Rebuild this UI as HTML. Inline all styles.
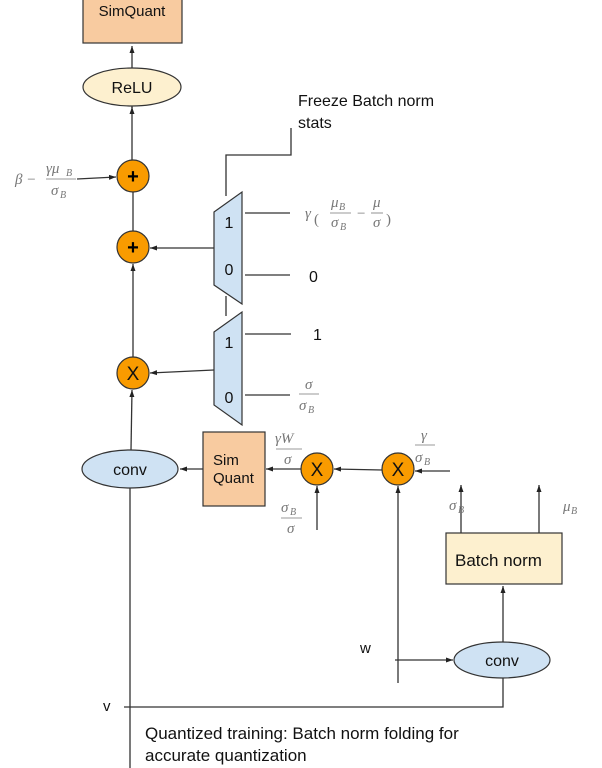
<!DOCTYPE html>
<html><head><meta charset="utf-8"><style>
html,body{margin:0;padding:0;background:#fff;}
svg{display:block;}
.t{font-family:"Liberation Sans",Arial,sans-serif;fill:#111;}
.m{font-family:"Liberation Serif",serif;font-style:italic;fill:#777;font-size:15px;}
.ms{font-family:"Liberation Serif",serif;font-style:italic;fill:#777;font-size:10px;}
</style></head><body>
<svg width="602" height="768" viewBox="0 0 602 768" xmlns="http://www.w3.org/2000/svg">
<defs><marker id="a" markerWidth="8" markerHeight="8" refX="7" refY="4" orient="auto" markerUnits="userSpaceOnUse"><path d="M0,1.5 L7,4 L0,6.5z" fill="#222"/></marker></defs>
<g stroke="#333" stroke-width="1.3" fill="none">
<line x1="132" y1="108" x2="132" y2="46" marker-end="url(#a)"/>
<line x1="132" y1="160" x2="132" y2="107" marker-end="url(#a)"/>
<line x1="133" y1="231" x2="133" y2="192"/>
<line x1="133" y1="357" x2="133" y2="264" marker-end="url(#a)"/>
<line x1="131" y1="450" x2="132" y2="390" marker-end="url(#a)"/>
<line x1="130" y1="488" x2="130" y2="768"/>
<line x1="77" y1="179" x2="116" y2="177" marker-end="url(#a)"/>
<line x1="214" y1="248" x2="150" y2="248" marker-end="url(#a)"/>
<line x1="214" y1="370" x2="150" y2="373" marker-end="url(#a)"/>
<polyline points="226,196 226,155 291,155 291,128"/>
<line x1="226" y1="296" x2="226" y2="316"/>
<line x1="245" y1="213" x2="290" y2="213"/>
<line x1="245" y1="275" x2="290" y2="275"/>
<line x1="245" y1="334" x2="291" y2="334"/>
<line x1="245" y1="395" x2="290" y2="395"/>
<line x1="203" y1="469" x2="180" y2="469" marker-end="url(#a)"/>
<line x1="301" y1="469" x2="266" y2="469" marker-end="url(#a)"/>
<line x1="382" y1="470" x2="334" y2="469" marker-end="url(#a)"/>
<line x1="450" y1="471" x2="415" y2="471" marker-end="url(#a)"/>
<line x1="317" y1="530" x2="317" y2="486" marker-end="url(#a)"/>
<line x1="398" y1="683" x2="398" y2="486" marker-end="url(#a)"/>
<line x1="461" y1="533" x2="461" y2="485" marker-end="url(#a)"/>
<line x1="539" y1="533" x2="539" y2="485" marker-end="url(#a)"/>
<line x1="503" y1="642" x2="503" y2="586" marker-end="url(#a)"/>
<line x1="395" y1="660" x2="453" y2="660" marker-end="url(#a)"/>
<polyline points="503,678 503,707 124,707"/>
</g>
<rect x="83" y="-2" width="99" height="45" fill="#f8cba0" stroke="#333" stroke-width="1.2"/>
<ellipse cx="132" cy="87" rx="49" ry="19" fill="#fdf0cf" stroke="#333" stroke-width="1.2"/>
<g fill="#f99b00" stroke="#333" stroke-width="1.2">
<circle cx="133" cy="176" r="16"/><circle cx="133" cy="247" r="16"/><circle cx="133" cy="373" r="16"/>
<circle cx="317" cy="469" r="16"/><circle cx="398" cy="469" r="16"/>
</g>
<g fill="#cfe2f3" stroke="#333" stroke-width="1.2">
<polygon points="214,212 242,192 242,304 214,285"/>
<polygon points="214,332 242,312 242,425 214,405"/>
<ellipse cx="130" cy="469" rx="48" ry="19"/>
<ellipse cx="502" cy="660" rx="48" ry="18"/>
</g>
<rect x="203" y="432" width="62" height="74" fill="#f8cba0" stroke="#333" stroke-width="1.2"/>
<rect x="446" y="533" width="116" height="51" fill="#fdf0cf" stroke="#333" stroke-width="1.2"/>
<g class="t" font-size="15">
<text x="132" y="16" text-anchor="middle">SimQuant</text>
<text x="132" y="93" text-anchor="middle" font-size="16">ReLU</text>
<text x="133" y="183" text-anchor="middle" font-size="20" font-weight="bold" fill="#000">+</text>
<text x="133" y="254" text-anchor="middle" font-size="20" font-weight="bold" fill="#000">+</text>
<text x="133" y="380" text-anchor="middle" font-size="19">X</text>
<text x="317" y="476" text-anchor="middle" font-size="19">X</text>
<text x="398" y="476" text-anchor="middle" font-size="19">X</text>
<text x="229" y="228" text-anchor="middle" font-size="16">1</text>
<text x="229" y="275" text-anchor="middle" font-size="16">0</text>
<text x="229" y="348" text-anchor="middle" font-size="16">1</text>
<text x="229" y="403" text-anchor="middle" font-size="16">0</text>
<text x="309" y="282" font-size="16">0</text>
<text x="313" y="340" font-size="16">1</text>
<text x="298" y="106" font-size="16">Freeze Batch norm</text>
<text x="298" y="128" font-size="16">stats</text>
<text x="130" y="475" text-anchor="middle" font-size="16">conv</text>
<text x="502" y="666" text-anchor="middle" font-size="16">conv</text>
<text x="213" y="465" font-size="15">Sim</text>
<text x="213" y="483" font-size="15">Quant</text>
<text x="455" y="566" font-size="17">Batch norm</text>
<text x="360" y="653" font-size="15">w</text>
<text x="103" y="711" font-size="15">v</text>
<text x="145" y="739" font-size="17">Quantized training: Batch norm folding for</text>
<text x="145" y="761" font-size="17">accurate quantization</text>
</g>
<g>
<text class="m" x="15" y="184" font-size="16">β −</text>
<text class="m" x="46" y="173">γμ</text><text class="ms" x="66" y="176">B</text>
<line x1="46" y1="179" x2="76" y2="179" stroke="#777" stroke-width="0.8"/>
<text class="m" x="51" y="195">σ</text><text class="ms" x="60" y="198">B</text>

<text class="m" x="305" y="218">γ</text>
<text class="m" x="314" y="224" font-size="28" style="font-style:normal">(</text>
<text class="m" x="331" y="207">μ</text><text class="ms" x="339" y="210">B</text>
<line x1="330" y1="213" x2="351" y2="213" stroke="#777" stroke-width="0.8"/>
<text class="m" x="331" y="227">σ</text><text class="ms" x="340" y="230">B</text>
<text class="m" x="357" y="218" style="font-style:normal">−</text>
<text class="m" x="373" y="207">μ</text>
<line x1="371" y1="213" x2="383" y2="213" stroke="#777" stroke-width="0.8"/>
<text class="m" x="373" y="227">σ</text>
<text class="m" x="386" y="224" font-size="28" style="font-style:normal">)</text>

<text class="m" x="305" y="389">σ</text>
<line x1="299" y1="394" x2="319" y2="394" stroke="#777" stroke-width="0.8"/>
<text class="m" x="299" y="410">σ</text><text class="ms" x="308" y="413">B</text>

<text class="m" x="275" y="443">γW</text>
<line x1="276" y1="449" x2="302" y2="449" stroke="#777" stroke-width="0.8"/>
<text class="m" x="284" y="464">σ</text>

<text class="m" x="281" y="512">σ</text><text class="ms" x="290" y="515">B</text>
<line x1="281" y1="518" x2="302" y2="518" stroke="#777" stroke-width="0.8"/>
<text class="m" x="287" y="533">σ</text>

<text class="m" x="421" y="440">γ</text>
<line x1="415" y1="445" x2="435" y2="445" stroke="#777" stroke-width="0.8"/>
<text class="m" x="415" y="462">σ</text><text class="ms" x="424" y="465">B</text>

<text class="m" x="449" y="510">σ</text><text class="ms" x="458" y="513">B</text>
<text class="m" x="563" y="511">μ</text><text class="ms" x="571" y="514">B</text>
</g>
</svg>
</body></html>
